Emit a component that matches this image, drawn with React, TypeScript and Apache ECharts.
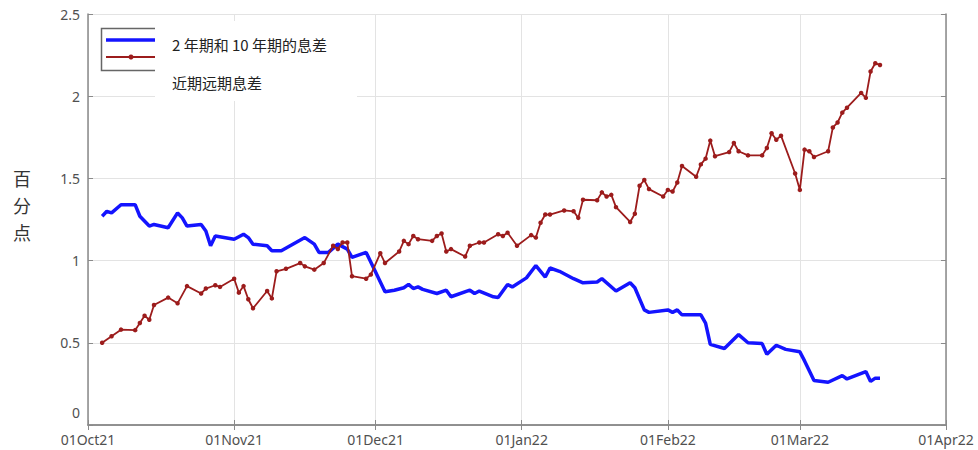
import React, { useEffect, useRef } from "react";
import * as echarts from "echarts";

const xTickLabels = ["01Oct21", "01Nov21", "01Dec21", "01Jan22", "01Feb22", "01Mar22", "01Apr22"];
const yTickLabels = ["0", "0.5", "1", "1.5", "2", "2.5"];

const spreadDates2s10s = [
  "2021-10-04", "2021-10-05", "2021-10-06", "2021-10-08", "2021-10-11", "2021-10-12", "2021-10-14", "2021-10-15",
  "2021-10-18", "2021-10-20", "2021-10-21", "2021-10-22", "2021-10-25", "2021-10-26", "2021-10-27", "2021-10-28",
  "2021-11-01", "2021-11-03", "2021-11-04", "2021-11-05", "2021-11-08", "2021-11-09", "2021-11-11", "2021-11-16",
  "2021-11-18", "2021-11-19", "2021-11-21", "2021-11-23", "2021-11-25", "2021-11-26", "2021-11-29", "2021-12-01",
  "2021-12-03", "2021-12-05", "2021-12-07", "2021-12-08", "2021-12-09", "2021-12-10", "2021-12-11", "2021-12-14",
  "2021-12-16", "2021-12-17", "2021-12-21", "2021-12-22", "2021-12-23", "2021-12-26", "2021-12-27", "2021-12-29",
  "2021-12-30", "2022-01-02", "2022-01-04", "2022-01-06", "2022-01-07", "2022-01-09", "2022-01-12", "2022-01-14",
  "2022-01-17", "2022-01-18", "2022-01-21", "2022-01-24", "2022-01-25", "2022-01-27", "2022-01-28", "2022-02-01",
  "2022-02-02", "2022-02-03", "2022-02-04", "2022-02-08", "2022-02-09", "2022-02-10", "2022-02-13", "2022-02-16",
  "2022-02-18", "2022-02-21", "2022-02-22", "2022-02-24", "2022-02-26", "2022-03-01", "2022-03-02", "2022-03-04",
  "2022-03-07", "2022-03-10", "2022-03-11", "2022-03-15", "2022-03-16", "2022-03-17", "2022-03-18",
];
const spreadValues2s10s = [
  1.27, 1.30, 1.29, 1.34, 1.34, 1.27, 1.21, 1.22,
  1.20, 1.29, 1.26, 1.21, 1.22, 1.18, 1.09, 1.15,
  1.13, 1.16, 1.14, 1.10, 1.09, 1.06, 1.06, 1.14,
  1.10, 1.05, 1.05, 1.10, 1.07, 1.02, 1.05, 0.93,
  0.81, 0.82, 0.835, 0.855, 0.83, 0.84, 0.825, 0.80,
  0.82, 0.78, 0.82, 0.80, 0.815, 0.78, 0.775, 0.855,
  0.84, 0.895, 0.97, 0.90, 0.955, 0.935, 0.89, 0.865,
  0.87, 0.89, 0.815, 0.865, 0.835, 0.70, 0.685, 0.70,
  0.685, 0.70, 0.67, 0.67, 0.62, 0.49, 0.465, 0.55,
  0.50, 0.495, 0.43, 0.485, 0.46, 0.445, 0.39, 0.27,
  0.26, 0.30, 0.28, 0.325, 0.265, 0.285, 0.285,
];

const spreadDatesNearTerm = [
  "2021-10-04", "2021-10-06", "2021-10-08", "2021-10-11", "2021-10-12", "2021-10-13", "2021-10-14", "2021-10-15",
  "2021-10-18", "2021-10-20", "2021-10-22", "2021-10-25", "2021-10-26", "2021-10-28", "2021-10-29", "2021-11-01",
  "2021-11-02", "2021-11-03", "2021-11-04", "2021-11-05", "2021-11-08", "2021-11-09", "2021-11-10", "2021-11-12",
  "2021-11-15", "2021-11-16", "2021-11-18", "2021-11-20", "2021-11-22", "2021-11-23", "2021-11-24", "2021-11-25",
  "2021-11-26", "2021-11-29", "2021-11-30", "2021-12-02", "2021-12-03", "2021-12-06", "2021-12-07", "2021-12-08",
  "2021-12-09", "2021-12-10", "2021-12-13", "2021-12-14", "2021-12-15", "2021-12-16", "2021-12-17", "2021-12-20",
  "2021-12-21", "2021-12-23", "2021-12-24", "2021-12-27", "2021-12-28", "2021-12-29", "2021-12-31", "2022-01-03",
  "2022-01-04", "2022-01-05", "2022-01-06", "2022-01-07", "2022-01-10", "2022-01-12", "2022-01-13", "2022-01-14",
  "2022-01-17", "2022-01-18", "2022-01-19", "2022-01-20", "2022-01-21", "2022-01-24", "2022-01-25", "2022-01-26",
  "2022-01-27", "2022-01-28", "2022-01-31", "2022-02-01", "2022-02-02", "2022-02-03", "2022-02-04", "2022-02-07",
  "2022-02-08", "2022-02-09", "2022-02-10", "2022-02-11", "2022-02-14", "2022-02-15", "2022-02-16", "2022-02-18",
  "2022-02-21", "2022-02-22", "2022-02-23", "2022-02-24", "2022-02-25", "2022-02-28", "2022-03-01", "2022-03-02",
  "2022-03-03", "2022-03-04", "2022-03-07", "2022-03-08", "2022-03-09", "2022-03-10", "2022-03-11", "2022-03-14",
  "2022-03-15", "2022-03-16", "2022-03-17", "2022-03-18",
];
const spreadValuesNearTerm = [
  0.50, 0.54, 0.58, 0.577, 0.62, 0.665, 0.64, 0.73,
  0.775, 0.74, 0.845, 0.80, 0.83, 0.85, 0.84, 0.89,
  0.805, 0.845, 0.765, 0.71, 0.815, 0.77, 0.935, 0.95,
  0.985, 0.965, 0.945, 0.985, 1.09, 1.07, 1.11, 1.11,
  0.905, 0.89, 0.915, 1.045, 0.985, 1.055, 1.12, 1.10,
  1.15, 1.13, 1.12, 1.15, 1.165, 1.055, 1.07, 1.025,
  1.09, 1.11, 1.11, 1.16, 1.15, 1.17, 1.09, 1.155,
  1.14, 1.23, 1.28, 1.28, 1.305, 1.30, 1.26, 1.37,
  1.367, 1.415, 1.39, 1.40, 1.325, 1.235, 1.285, 1.455,
  1.49, 1.435, 1.39, 1.43, 1.42, 1.475, 1.575, 1.51,
  1.585, 1.62, 1.73, 1.635, 1.66, 1.715, 1.665, 1.64,
  1.64, 1.685, 1.775, 1.735, 1.76, 1.53, 1.43, 1.675,
  1.665, 1.63, 1.665, 1.81, 1.84, 1.90, 1.93, 2.02,
  1.99, 2.15, 2.20, 2.19,
];

const seriesNames = ["2 年期和 10 年期的息差", "近期远期息差"];
const yAxisTitle = "百分点";

const MONTHS = ["Jan", "Feb", "Mar", "Apr", "May", "Jun", "Jul", "Aug", "Sep", "Oct", "Nov", "Dec"];
function fmtDate(v: number): string {
  const d = new Date(v);
  const dd = String(d.getDate()).padStart(2, "0");
  const yy = String(d.getFullYear() % 100).padStart(2, "0");
  return dd + MONTHS[d.getMonth()] + yy;
}

export default function App() {
  const ref = useRef<HTMLDivElement>(null);
  useEffect(() => {
    if (!ref.current) return;
    const chart = echarts.init(ref.current, null, { renderer: "svg" });
    const xMin = new Date(2021, 9, 1).getTime();
    const xMax = new Date(2022, 3, 1).getTime();
    const labelSet = new Set(xTickLabels);
    const axisGray = "#8a8a8a";
    const labelColor = "#505050";
    const font = "'Noto Sans', 'Open Sans', sans-serif";
    const cjk = "'Noto Sans CJK SC', sans-serif";
    const blueData = spreadDates2s10s.map((d, i) => [d, spreadValues2s10s[i]]);
    const redData = spreadDatesNearTerm.map((d, i) => [d, spreadValuesNearTerm[i]]);

    const titleChars = yAxisTitle.split("").map((ch, i) => ({
      type: "text",
      left: 13,
      top: 169 + i * 27,
      style: { text: ch, font: "18px " + cjk, fill: "#333" },
    }));

    chart.setOption({
      animation: false,
      backgroundColor: "#ffffff",
      grid: { left: 88, right: 32, top: 14, bottom: 25, show: false },
      xAxis: [
        {
          type: "time",
          min: xMin,
          max: xMax,
          splitNumber: 6,
          axisLine: { show: true, lineStyle: { color: axisGray, width: 1.5 } },
          axisTick: { show: true, inside: true, length: 5, lineStyle: { color: axisGray } },
          axisLabel: {
            color: labelColor,
            fontSize: 14,
            fontFamily: font,
            margin: 7,
            showMinLabel: true,
            showMaxLabel: true,
            hideOverlap: false,
            formatter: (v: number) => {
              const s = fmtDate(v);
              return labelSet.has(s) ? s : "";
            },
          },
          splitLine: { show: true, lineStyle: { color: "#e3e3e3", width: 1 } },
        },
        {
          type: "time",
          position: "top",
          min: xMin,
          max: xMax,
          splitNumber: 6,
          axisLine: { show: true, lineStyle: { color: axisGray, width: 1.5 } },
          axisTick: { show: true, inside: true, length: 5, lineStyle: { color: axisGray } },
          axisLabel: { show: false },
          splitLine: { show: false },
        },
      ],
      yAxis: [
        {
          type: "value",
          min: 0,
          max: 2.5,
          interval: 0.5,
          axisLine: { show: true, lineStyle: { color: axisGray, width: 1.5 } },
          axisTick: { show: true, inside: true, length: 5, lineStyle: { color: axisGray } },
          axisLabel: {
            color: labelColor,
            fontSize: 14,
            fontFamily: font,
            margin: 8,
            formatter: (v: number) => {
              const s = String(v);
              if (!yTickLabels.includes(s)) return "";
              return s === "0" ? "{z|" + s + "}" : s;
            },
            rich: {
              z: { color: labelColor, fontSize: 14, fontFamily: font, padding: [0, 0, 26, 0] },
            },
          },
          splitLine: { show: true, lineStyle: { color: "#e3e3e3", width: 1 } },
        },
        {
          type: "value",
          position: "right",
          min: 0,
          max: 2.5,
          interval: 0.5,
          axisLine: { show: true, lineStyle: { color: axisGray, width: 1.5 } },
          axisTick: { show: true, inside: true, length: 5, lineStyle: { color: axisGray } },
          axisLabel: { show: false },
          splitLine: { show: false },
        },
      ],
      series: [
        {
          name: seriesNames[0],
          type: "line",
          xAxisIndex: 0,
          yAxisIndex: 0,
          data: blueData,
          showSymbol: false,
          symbol: "none",
          lineStyle: { color: "#1414ff", width: 3.5 },
          itemStyle: { color: "#1414ff" },
          z: 3,
        },
        {
          name: seriesNames[1],
          type: "line",
          xAxisIndex: 0,
          yAxisIndex: 0,
          data: redData,
          symbol: "circle",
          symbolSize: 4.5,
          showSymbol: true,
          lineStyle: { color: "#9c1c1c", width: 1.8 },
          itemStyle: { color: "#9c1c1c" },
          z: 4,
        },
      ],
      graphic: [
        ...titleChars,
        {
          type: "rect",
          shape: { x: 101.5, y: 28.5, width: 70, height: 42 },
          style: { fill: "#ffffff", stroke: "#666", lineWidth: 1.5 },
          z: 100,
        },
        {
          type: "rect",
          shape: { x: 155, y: 21, width: 202, height: 80 },
          style: { fill: "#ffffff" },
          z: 101,
        },
        {
          type: "line",
          shape: { x1: 106, y1: 40, x2: 155, y2: 40 },
          style: { stroke: "#1414ff", lineWidth: 3.5 },
          z: 102,
        },
        {
          type: "line",
          shape: { x1: 106, y1: 57, x2: 155, y2: 57 },
          style: { stroke: "#9c1c1c", lineWidth: 1.8 },
          z: 102,
        },
        {
          type: "circle",
          shape: { cx: 131, cy: 57, r: 2.5 },
          style: { fill: "#9c1c1c" },
          z: 103,
        },
        {
          type: "text",
          left: 172,
          top: 37,
          style: { text: seriesNames[0], font: "15px " + cjk, fill: "#222" },
          z: 103,
        },
        {
          type: "text",
          left: 172,
          top: 75,
          style: { text: seriesNames[1], font: "15px " + cjk, fill: "#222" },
          z: 103,
        },
      ],
    });
    return () => chart.dispose();
  }, []);
  return (
    <div
      ref={ref}
      style={{ position: "fixed", left: 0, top: 0, width: 978, height: 450, background: "#fff" }}
    />
  );
}
